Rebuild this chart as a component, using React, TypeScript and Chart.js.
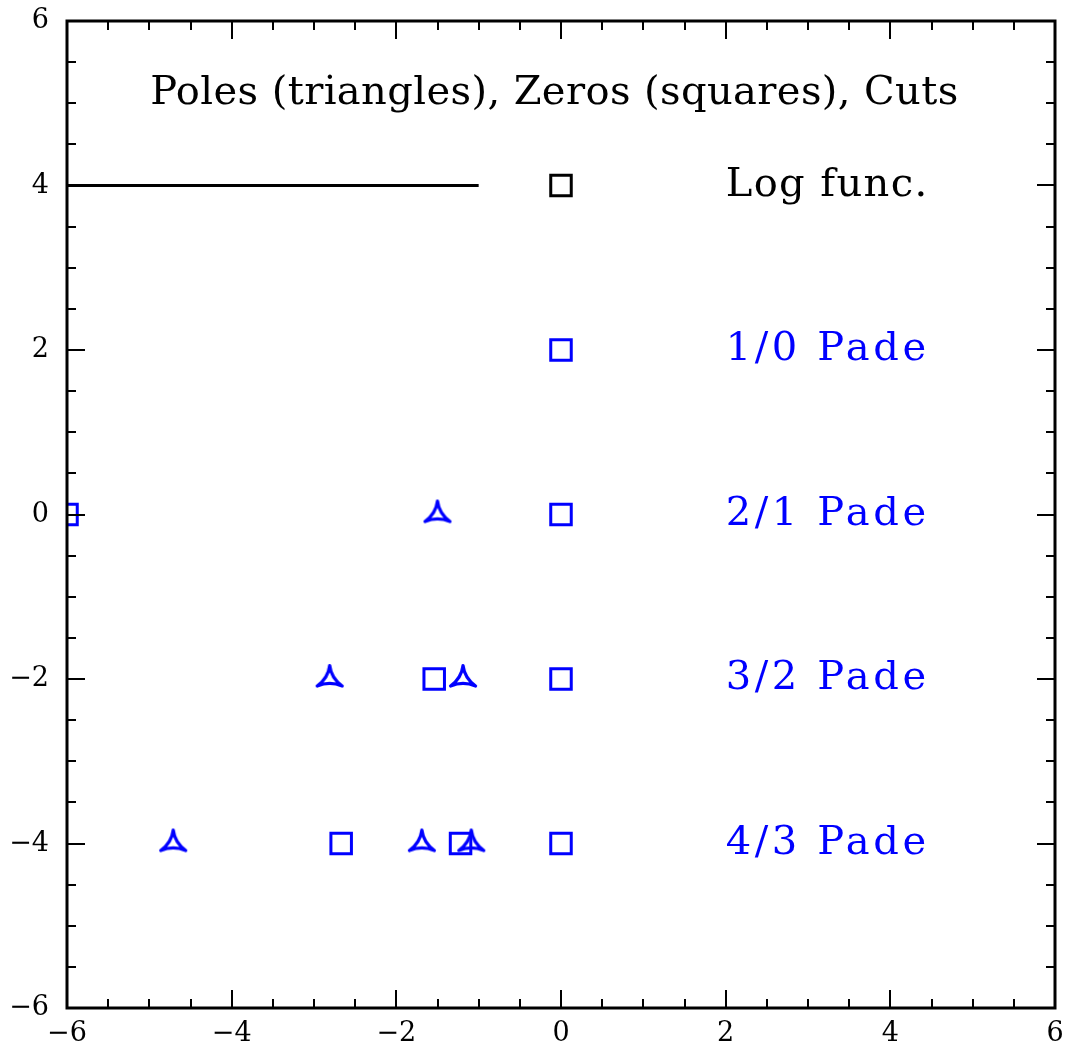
import React, { useEffect, useRef } from "react";
import { Chart, registerables } from "chart.js";

Chart.register(...registerables);

// Axis range and tick spacing
const AXIS_MIN = -6;
const AXIS_MAX = 6;
const MAJOR_STEP = 2;
const MINOR_STEP = 0.5;

// Logarithm: branch cut along the real axis and its zero
const cutX = [-6, -1];
const logRowY = 4;
const logZerosX = [0];

// Padé approximants, one row each
const padeNames = ["1/0 Pade", "2/1 Pade", "3/2 Pade", "4/3 Pade"];
const padeRowY = [2, 0, -2, -4];
const padeZerosX = [[0], [0, -6], [0, -1.54], [0, -1.22, -2.67]];
const padePolesX = [[], [-1.5], [-2.81, -1.19], [-4.71, -1.69, -1.09]];

const titleText = "Poles (triangles), Zeros (squares), Cuts";
const logLabel = "Log func.";

const BLUE = "#0000ff";
const FONT = "'DejaVu Serif', serif";

function makePoleMarker(color: string): HTMLCanvasElement {
  const size = 36;
  const c = document.createElement("canvas");
  c.width = size;
  c.height = size;
  const ctx = c.getContext("2d")!;
  const cx = size / 2;
  const cy = size / 2;
  const pts = [
    [cx, cy - 13.5],
    [cx + 12.5, cy + 7],
    [cx - 12.5, cy + 7],
  ];
  ctx.strokeStyle = color;
  ctx.lineWidth = 3.2;
  ctx.lineJoin = "round";
  ctx.lineCap = "round";
  ctx.beginPath();
  ctx.moveTo(pts[0][0], pts[0][1]);
  for (let i = 0; i < 3; i++) {
    const a = pts[i];
    const b = pts[(i + 1) % 3];
    const mx = (a[0] + b[0]) / 2;
    const my = (a[1] + b[1]) / 2;
    // pull the side in toward the centre for a concave outline
    const k = 0.25;
    ctx.quadraticCurveTo(cx + (mx - cx) * k, cy + (my - cy) * k, b[0], b[1]);
  }
  ctx.closePath();
  ctx.stroke();
  return c;
}

function fmtTick(v: number): string {
  if (Math.abs(v % MAJOR_STEP) > 1e-9) return "";
  return v < 0 ? "\u2212" + Math.abs(v) : String(v);
}

const framePlugin = {
  id: "frameTicks",
  afterDatasetsDraw(chart: any) {
    const { ctx, chartArea, scales } = chart;
    const { left, right, top, bottom } = chartArea;
    const xs = scales.x;
    const ys = scales.y;
    ctx.save();
    ctx.strokeStyle = "#000";
    ctx.lineWidth = 2;
    ctx.beginPath();
    for (let v = AXIS_MIN; v <= AXIS_MAX + 1e-9; v += MINOR_STEP) {
      const major = Math.abs(v % MAJOR_STEP) < 1e-9;
      const len = major ? 18 : 9;
      const px = Math.round(xs.getPixelForValue(v));
      ctx.moveTo(px, bottom);
      ctx.lineTo(px, bottom - len);
      ctx.moveTo(px, top);
      ctx.lineTo(px, top + len);
      const py = Math.round(ys.getPixelForValue(v));
      ctx.moveTo(left, py);
      ctx.lineTo(left + len, py);
      ctx.moveTo(right, py);
      ctx.lineTo(right - len, py);
    }
    ctx.stroke();
    ctx.lineWidth = 3;
    ctx.strokeRect(left, top, right - left, bottom - top);

    // Title and row labels
    ctx.font = `40px ${FONT}`;
    ctx.textBaseline = "middle";
    ctx.textAlign = "center";
    ctx.fillStyle = "#000";
    (ctx as any).letterSpacing = "0.4px";
    ctx.fillText(titleText, xs.getPixelForValue(-0.08), ys.getPixelForValue(5.12));
    ctx.textAlign = "left";
    const lx = xs.getPixelForValue(2.0);
    (ctx as any).letterSpacing = "1.4px";
    ctx.fillText(logLabel, lx, ys.getPixelForValue(logRowY));
    ctx.fillStyle = BLUE;
    (ctx as any).letterSpacing = "3.6px";
    padeNames.forEach((name, i) => {
      ctx.fillText(name, lx, ys.getPixelForValue(padeRowY[i]));
    });
    ctx.restore();
  },
};

export default function App() {
  const ref = useRef<HTMLCanvasElement>(null);

  useEffect(() => {
    const pole = makePoleMarker(BLUE);
    const square = (color: string) => ({
      pointStyle: "rect",
      pointRadius: 14.5,
      borderColor: color,
      backgroundColor: "rgba(0,0,0,0)",
      borderWidth: 3,
      clip: 0,
    });
    const datasets: any[] = [
      {
        label: "cut",
        type: "line",
        data: cutX.map((x) => ({ x, y: logRowY })),
        borderColor: "#000",
        borderWidth: 2.8,
        pointRadius: 0,
        showLine: true,
        clip: 0,
      },
      {
        label: "log zeros",
        data: logZerosX.map((x) => ({ x, y: logRowY })),
        ...square("#000"),
      },
    ];
    padeRowY.forEach((y, i) => {
      datasets.push({
        label: padeNames[i] + " zeros",
        data: padeZerosX[i].map((x) => ({ x, y })),
        ...square(BLUE),
      });
      datasets.push({
        label: padeNames[i] + " poles",
        data: padePolesX[i].map((x) => ({ x, y })),
        pointStyle: pole,
        pointRadius: 14,
        clip: 0,
      });
    });

    const tickFont = { family: FONT, size: 27 };
    const chart = new Chart(ref.current!, {
      type: "scatter",
      data: { datasets },
      plugins: [framePlugin],
      options: {
        animation: false,
        responsive: true,
        maintainAspectRatio: false,
        layout: { padding: 0, autoPadding: false },
        plugins: { legend: { display: false }, tooltip: { enabled: false } },
        scales: {
          x: {
            type: "linear",
            min: AXIS_MIN,
            max: AXIS_MAX,
            ticks: { stepSize: MINOR_STEP, autoSkip: false, maxRotation: 0, color: "#000", font: tickFont, padding: 2, callback: (v: any) => fmtTick(Number(v)) },
            grid: { display: false },
            border: { display: false },
            afterFit: (s: any) => {
              s.height = 41;
              s.paddingLeft = 0;
              s.paddingRight = 13;
              s.paddingTop = 0;
              s.paddingBottom = 0;
            },
          },
          y: {
            type: "linear",
            min: AXIS_MIN,
            max: AXIS_MAX,
            ticks: { stepSize: MINOR_STEP, autoSkip: false, color: "#000", font: tickFont, padding: 10, callback: (v: any) => fmtTick(Number(v)) },
            grid: { display: false },
            border: { display: false },
            afterFit: (s: any) => {
              s.width = 67;
              s.paddingTop = 21;
              s.paddingBottom = 0;
              s.paddingLeft = 0;
              s.paddingRight = 0;
            },
          },
        },
      } as any,
    });
    return () => chart.destroy();
  }, []);

  return (
    <div style={{ position: "fixed", left: 0, top: 0, width: 1068, height: 1049, background: "#fff" }}>
      <canvas ref={ref} />
    </div>
  );
}
